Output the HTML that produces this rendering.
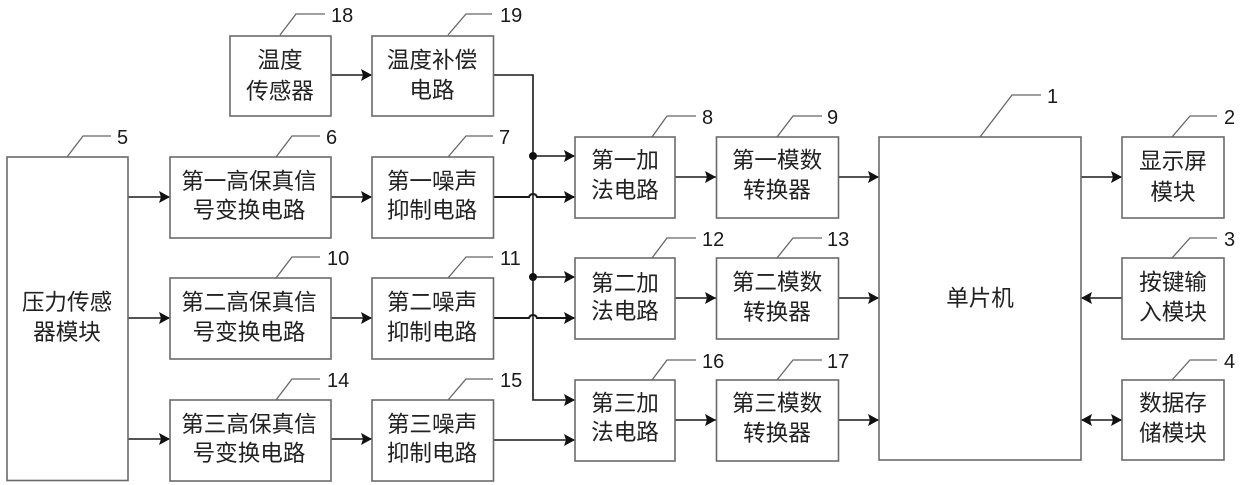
<!DOCTYPE html>
<html lang="zh">
<head>
<meta charset="utf-8">
<title>Block diagram</title>
<style>
html,body{margin:0;padding:0;background:#fff;width:1240px;height:485px;overflow:hidden}
svg{display:block}
.b{fill:#fff;stroke:#6a6a6a;stroke-width:1.6}
.l{fill:none;stroke:#666;stroke-width:1.3}
.c{fill:none;stroke:#1a1a1a;stroke-width:1.6}
.t{font-family:"Liberation Sans","Noto Sans CJK SC",sans-serif;font-size:22.6px;fill:#222;text-anchor:middle}
.n{font-family:"Liberation Sans",sans-serif;font-size:20px;fill:#1a1a1a}
</style>
</head>
<body>
<svg width="1240" height="485" viewBox="0 0 1240 485" xmlns="http://www.w3.org/2000/svg">
<defs>
<marker id="a" markerUnits="userSpaceOnUse" markerWidth="12" markerHeight="13" refX="11" refY="6.5" orient="auto-start-reverse">
<path d="M0,0.5 L11,6.5 L0,12.5 L2,6.5 Z" fill="#111"/>
</marker>
</defs>

<!-- connectors -->
<g class="c">
<path d="M330,75H372" marker-end="url(#a)"/>
<path d="M494,75H533V400H575" marker-end="url(#a)"/>
<path d="M533,156H575" marker-end="url(#a)"/>
<path d="M533,277H575" marker-end="url(#a)"/>
<path d="M493,197H529Q530,194 533,194Q536,194 537,197H575" marker-end="url(#a)" stroke-width="2"/>
<path d="M493,318H529Q530,315 533,315Q536,315 537,318H575" marker-end="url(#a)" stroke-width="2"/>
<path d="M493,440H575" marker-end="url(#a)"/>
<path d="M128,197H170" marker-end="url(#a)"/>
<path d="M128,318H170" marker-end="url(#a)"/>
<path d="M128,439H170" marker-end="url(#a)"/>
<path d="M331,197H372" marker-end="url(#a)"/>
<path d="M331,318H372" marker-end="url(#a)"/>
<path d="M331,439H372" marker-end="url(#a)"/>
<path d="M675,177H716" marker-end="url(#a)"/>
<path d="M675,298H716" marker-end="url(#a)"/>
<path d="M675,420H716" marker-end="url(#a)"/>
<path d="M838,177H879" marker-end="url(#a)"/>
<path d="M838,298H879" marker-end="url(#a)"/>
<path d="M838,420H879" marker-end="url(#a)"/>
<path d="M1081,177H1122" marker-end="url(#a)"/>
<path d="M1122,298H1081" marker-end="url(#a)"/>
<path d="M1081,420H1122" marker-start="url(#a)" marker-end="url(#a)"/>
</g>
<circle cx="533" cy="156" r="4" fill="#111"/>
<circle cx="533" cy="277" r="4" fill="#111"/>

<!-- boxes -->
<g class="b">
<rect x="230" y="36" width="101" height="80"/>
<rect x="372" y="36" width="121.500" height="80"/>
<rect x="7" y="157" width="121" height="323.500"/>
<rect x="170" y="157" width="161" height="81"/>
<rect x="372" y="157" width="121.500" height="81"/>
<rect x="170" y="278" width="161" height="81"/>
<rect x="372" y="278" width="121.500" height="81"/>
<rect x="170" y="400" width="161" height="81"/>
<rect x="372" y="400" width="121.500" height="81"/>
<rect x="575" y="137" width="100" height="81"/>
<rect x="575" y="258" width="100" height="81"/>
<rect x="575" y="380" width="100" height="81"/>
<rect x="716.500" y="137" width="122" height="81"/>
<rect x="716.500" y="258" width="122" height="81"/>
<rect x="716.500" y="380" width="122" height="81"/>
<rect x="879" y="137" width="202" height="323"/>
<rect x="1122" y="137" width="102" height="81"/>
<rect x="1122" y="258" width="102" height="81"/>
<rect x="1122" y="380" width="102" height="80"/>
</g>

<!-- leaders -->
<g class="l">
<path d="M280,35L296,14H325"/>
<path d="M448,35L466,14H492"/>
<path d="M67,157L83,136H111"/>
<path d="M276,157L292,136H320"/>
<path d="M448,157L466,136H493"/>
<path d="M276,278L292,257H320"/>
<path d="M448,278L466,257H493"/>
<path d="M276,400L292,379H320"/>
<path d="M448,400L466,379H493"/>
<path d="M652,137L667,116H696"/>
<path d="M652,258L667,238H696"/>
<path d="M652,380L667,360H696"/>
<path d="M777,137L793,116H822"/>
<path d="M777,258L793,238H822"/>
<path d="M777,380L793,360H822"/>
<path d="M980,137L1012,95H1041"/>
<path d="M1172,137L1190,116H1217"/>
<path d="M1172,258L1190,238H1217"/>
<path d="M1172,380L1190,360H1217"/>
</g>

<!-- box labels -->
<g class="t">
<text x="280" y="68">温度</text><text x="280" y="99">传感器</text>
<text x="432" y="68">温度补偿</text><text x="432" y="98">电路</text>
<text x="67" y="310">压力传感</text><text x="67" y="340">器模块</text>
<text x="249" y="189">第一高保真信</text><text x="249" y="218">号变换电路</text>
<text x="432" y="189">第一噪声</text><text x="432" y="218">抑制电路</text>
<text x="249" y="310">第二高保真信</text><text x="249" y="340">号变换电路</text>
<text x="432" y="310">第二噪声</text><text x="432" y="340">抑制电路</text>
<text x="249" y="432">第三高保真信</text><text x="249" y="461">号变换电路</text>
<text x="432" y="432">第三噪声</text><text x="432" y="461">抑制电路</text>
<text x="625" y="168">第一加</text><text x="625" y="198">法电路</text>
<text x="625" y="291">第二加</text><text x="625" y="319">法电路</text>
<text x="625" y="411">第三加</text><text x="625" y="440">法电路</text>
<text x="777" y="168">第一模数</text><text x="777" y="198">转换器</text>
<text x="777" y="290">第二模数</text><text x="777" y="320">转换器</text>
<text x="777" y="411">第三模数</text><text x="777" y="441">转换器</text>
<text x="980" y="306">单片机</text>
<text x="1173" y="169">显示屏</text><text x="1173" y="200">模块</text>
<text x="1173" y="290">按键输</text><text x="1173" y="320">入模块</text>
<text x="1173" y="411">数据存</text><text x="1173" y="441">储模块</text>
</g>

<!-- numbers -->
<g class="n">
<text x="331" y="22">18</text>
<text x="500" y="22">19</text>
<text x="117" y="144">5</text>
<text x="326" y="144">6</text>
<text x="499" y="144">7</text>
<text x="327" y="265">10</text>
<text x="500" y="265">11</text>
<text x="327" y="387">14</text>
<text x="500" y="387">15</text>
<text x="702" y="124">8</text>
<text x="702" y="246">12</text>
<text x="702" y="368">16</text>
<text x="827" y="124">9</text>
<text x="827" y="246">13</text>
<text x="827" y="368">17</text>
<text x="1047" y="103">1</text>
<text x="1224" y="124">2</text>
<text x="1224" y="246">3</text>
<text x="1224" y="368">4</text>
</g>
</svg>
</body>
</html>
